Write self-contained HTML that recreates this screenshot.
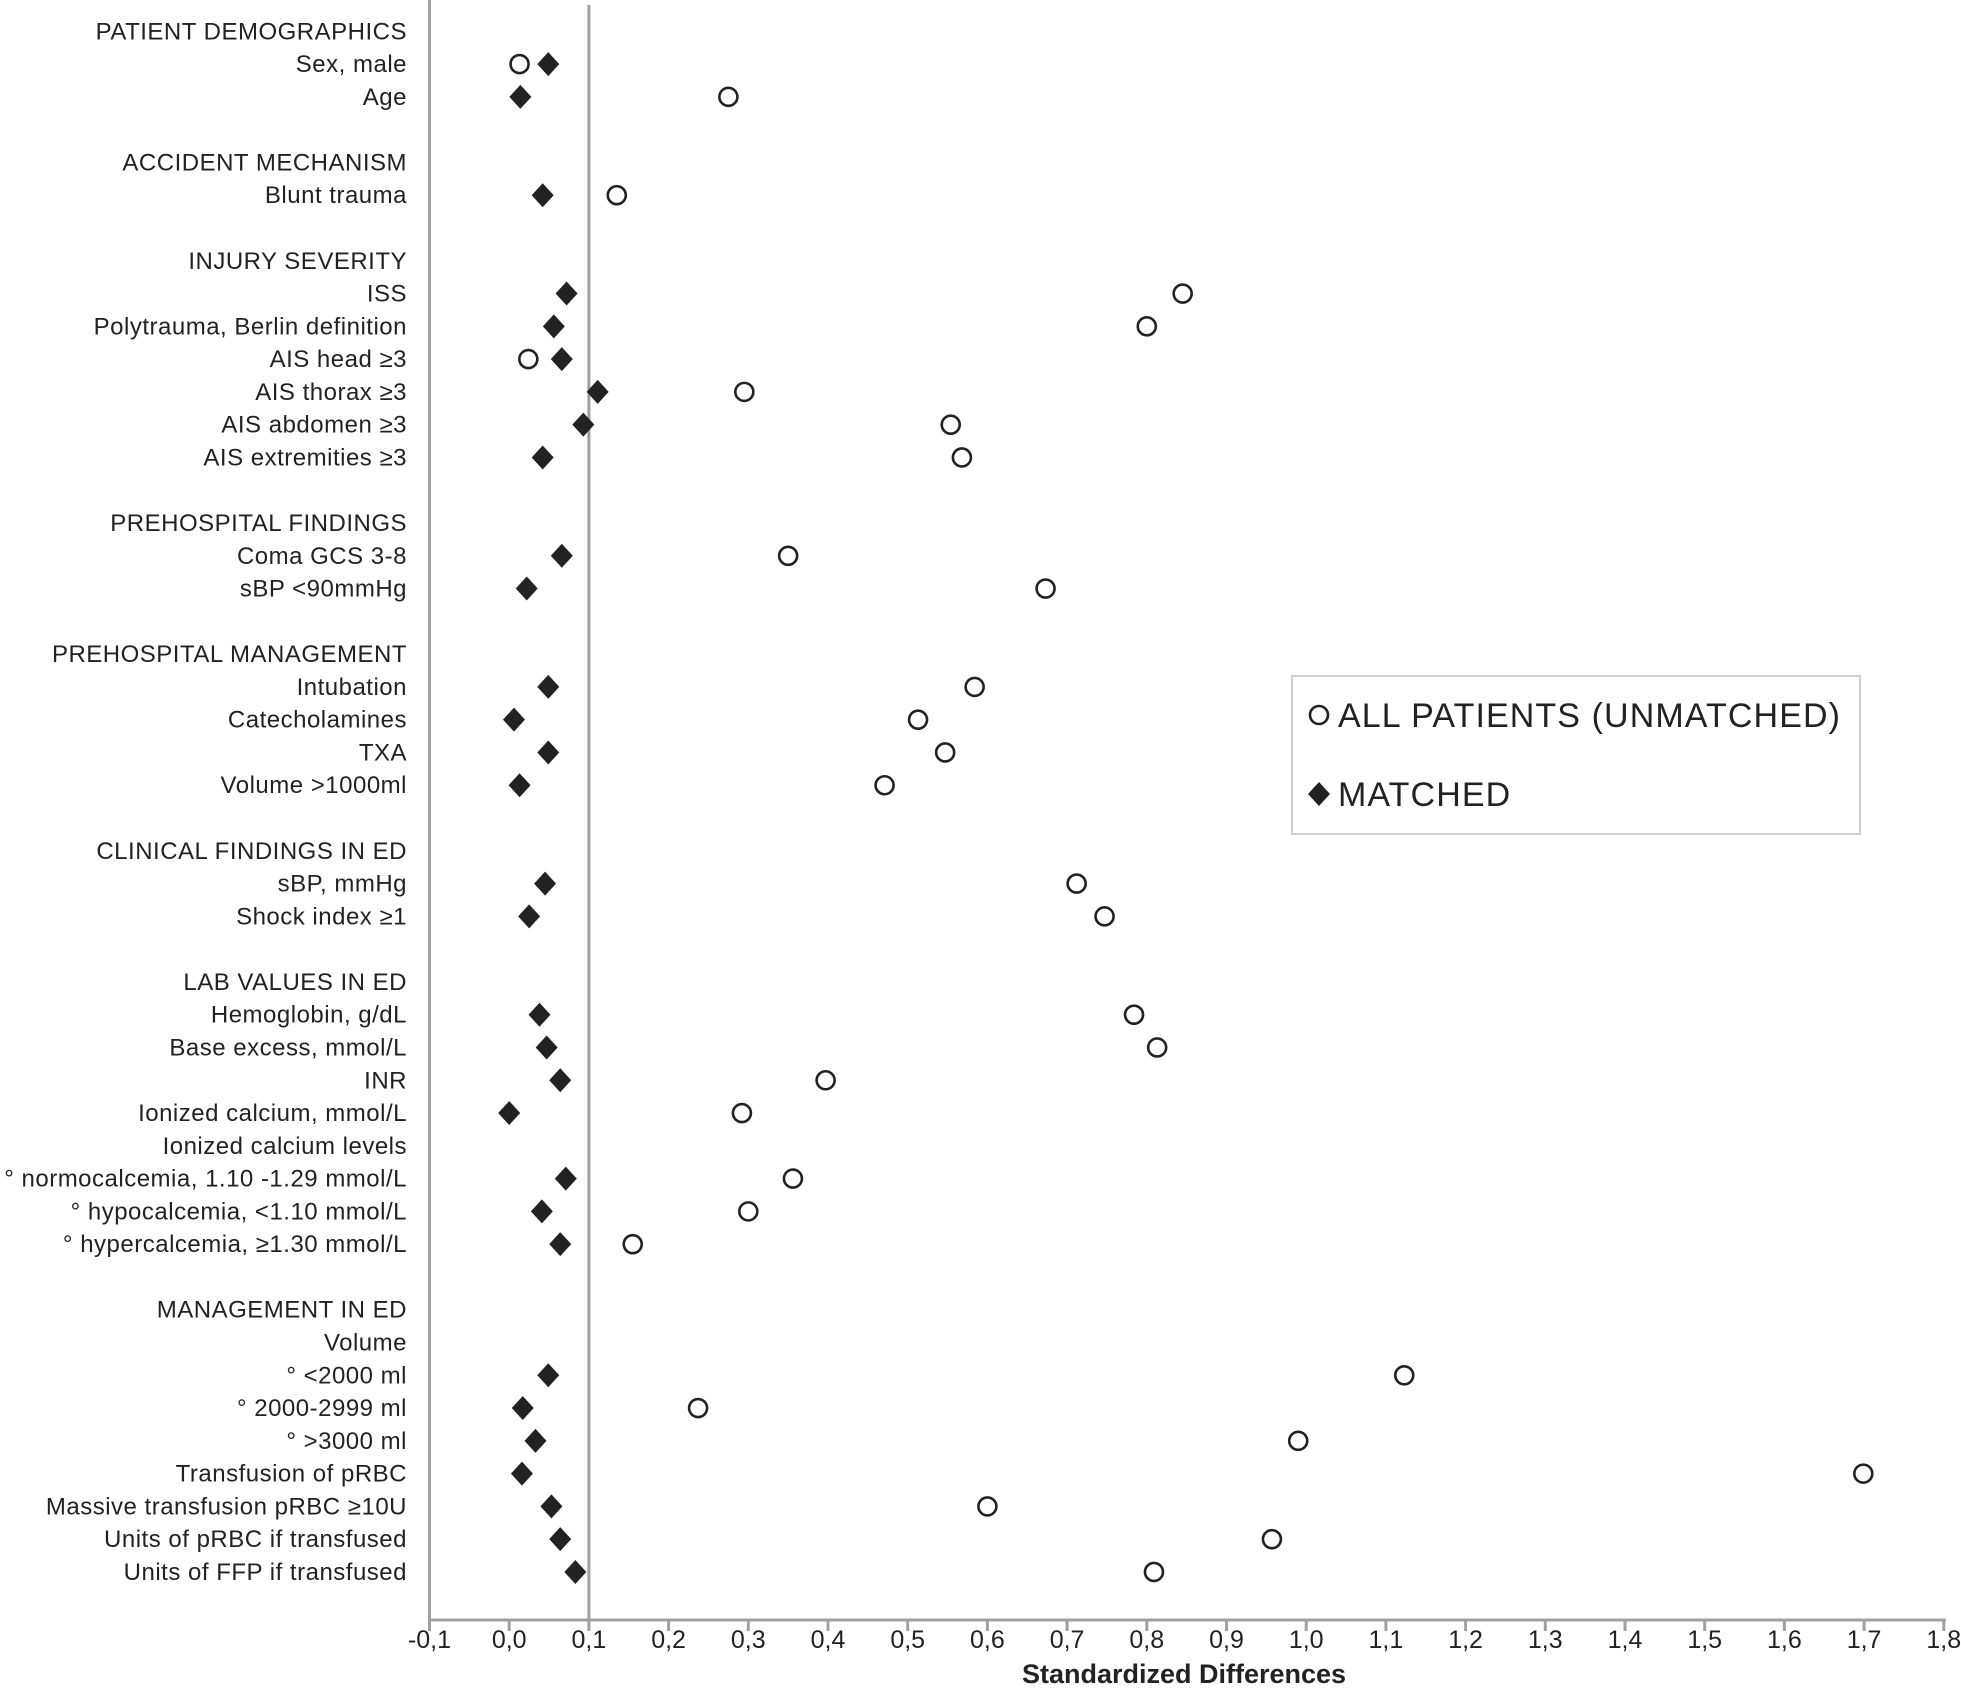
<!DOCTYPE html>
<html><head><meta charset="utf-8"><style>
html,body{margin:0;padding:0;background:#fff;}
svg{display:block;font-family:"Liberation Sans",Arial,sans-serif;}
</style></head><body>
<svg id="chart" width="1961" height="1696" viewBox="0 0 1961 1696">
<g id="labels"></g>
<g id="axes"></g>
<g id="marks"></g>
<g>
 <rect x="1292" y="676" width="568" height="158" fill="#fff" stroke="#d0d0d0" stroke-width="2"/>
 <g>
  <circle cx="1319" cy="715" r="9" fill="#fff" stroke="#222" stroke-width="2.6"/>
  <text x="1338" y="727" font-size="34" letter-spacing="1.1" fill="#222">ALL PATIENTS (UNMATCHED)</text>
 </g>
 <g>
  <path d="M1319 782 l11 12 l-11 12 l-11 -12z" fill="#222"/>
  <text x="1338" y="806" font-size="34" letter-spacing="1.1" fill="#222">MATCHED</text>
 </g>
</g>
<text x="1184" y="1683" font-size="27" font-weight="bold" text-anchor="middle" fill="#222">Standardized Differences</text>
</svg>
<script>
const rowLabels = ["PATIENT DEMOGRAPHICS","Sex, male","Age","","ACCIDENT MECHANISM","Blunt trauma","","INJURY SEVERITY","ISS","Polytrauma, Berlin definition","AIS head ≥3","AIS thorax ≥3","AIS abdomen ≥3","AIS extremities ≥3","","PREHOSPITAL FINDINGS","Coma GCS 3-8","sBP <90mmHg","","PREHOSPITAL MANAGEMENT","Intubation","Catecholamines","TXA","Volume >1000ml","","CLINICAL FINDINGS IN ED","sBP, mmHg","Shock index ≥1","","LAB VALUES IN ED","Hemoglobin, g/dL","Base excess, mmol/L","INR","Ionized calcium, mmol/L","Ionized calcium levels","° normocalcemia, 1.10 -1.29 mmol/L","° hypocalcemia, <1.10 mmol/L","° hypercalcemia, ≥1.30 mmol/L","","MANAGEMENT IN ED","Volume","° <2000 ml","° 2000-2999 ml","° >3000 ml","Transfusion of pRBC","Massive transfusion pRBC ≥10U","Units of pRBC if transfused","Units of FFP if transfused"];
const unmatched = [null,0.013,0.275,null,null,0.135,null,null,0.845,0.80,0.024,0.295,0.554,0.568,null,null,0.35,0.673,null,null,0.584,0.513,0.547,0.471,null,null,0.712,0.747,null,null,0.784,0.813,0.397,0.292,null,0.356,0.30,0.155,null,null,null,1.123,0.237,0.99,1.699,0.60,0.957,0.809];
const matched = [null,0.049,0.014,null,null,0.042,null,null,0.072,0.056,0.066,0.111,0.093,0.042,null,null,0.066,0.022,null,null,0.049,0.006,0.049,0.013,null,null,0.045,0.025,null,null,0.038,0.047,0.064,0.0,null,0.071,0.041,0.064,null,null,null,0.049,0.017,0.033,0.016,0.053,0.064,0.083];
const xTicks = [-0.1,0,0.1,0.2,0.3,0.4,0.5,0.6,0.7,0.8,0.9,1.0,1.1,1.2,1.3,1.4,1.5,1.6,1.7,1.8];
const refValue = 0.1;

const NS="http://www.w3.org/2000/svg";
const x0=429.5, xPer=797, axisY=1620;
function xs(v){return x0+(v+0.1)*xPer;}
function ys(i){return 31.3+i*32.78;}
function mk(tag,attrs,parent){const e=document.createElementNS(NS,tag);for(const k in attrs)e.setAttribute(k,attrs[k]);parent.appendChild(e);return e;}
const L=document.getElementById('labels'),A=document.getElementById('axes'),M=document.getElementById('marks');
rowLabels.forEach((t,i)=>{if(!t)return;
 const e=mk('text',{x:407,y:ys(i)+8,'font-size':24,'letter-spacing':0.5,'text-anchor':'end',fill:'#222'},L);
 e.textContent=t;
 
 
});
const ya=mk('line',{x1:x0,y1:0,x2:x0,y2:axisY,stroke:'#a0a0a0','stroke-width':3},A);


const xa=mk('line',{x1:x0,y1:axisY,x2:xs(1.8)+2,y2:axisY,stroke:'#a0a0a0','stroke-width':3},A);


const rl=mk('line',{x1:xs(refValue),y1:5,x2:xs(refValue),y2:axisY,stroke:'#a0a0a0','stroke-width':3},A);


xTicks.forEach(v=>{
 const t=mk('line',{x1:xs(v),y1:axisY,x2:xs(v),y2:axisY+11,stroke:'#a0a0a0','stroke-width':3},A);
 
 
 const lb=mk('text',{x:xs(v),y:1648,'font-size':25,'text-anchor':'middle',fill:'#222'},A);
 lb.textContent=v.toFixed(1).replace('.',',');
 
 
});
unmatched.forEach((v,i)=>{if(v===null)return;
 const c=mk('circle',{cx:xs(v),cy:ys(i),r:9,fill:'#fff',stroke:'#222','stroke-width':2.6},M);
 
 
});
matched.forEach((v,i)=>{if(v===null)return;
 const x=xs(v),y=ys(i);
 const d=mk('path',{d:`M${x} ${y-12} L${x+11} ${y} L${x} ${y+12} L${x-11} ${y}Z`,fill:'#222'},M);
 
 
});
</script>
</body></html>
